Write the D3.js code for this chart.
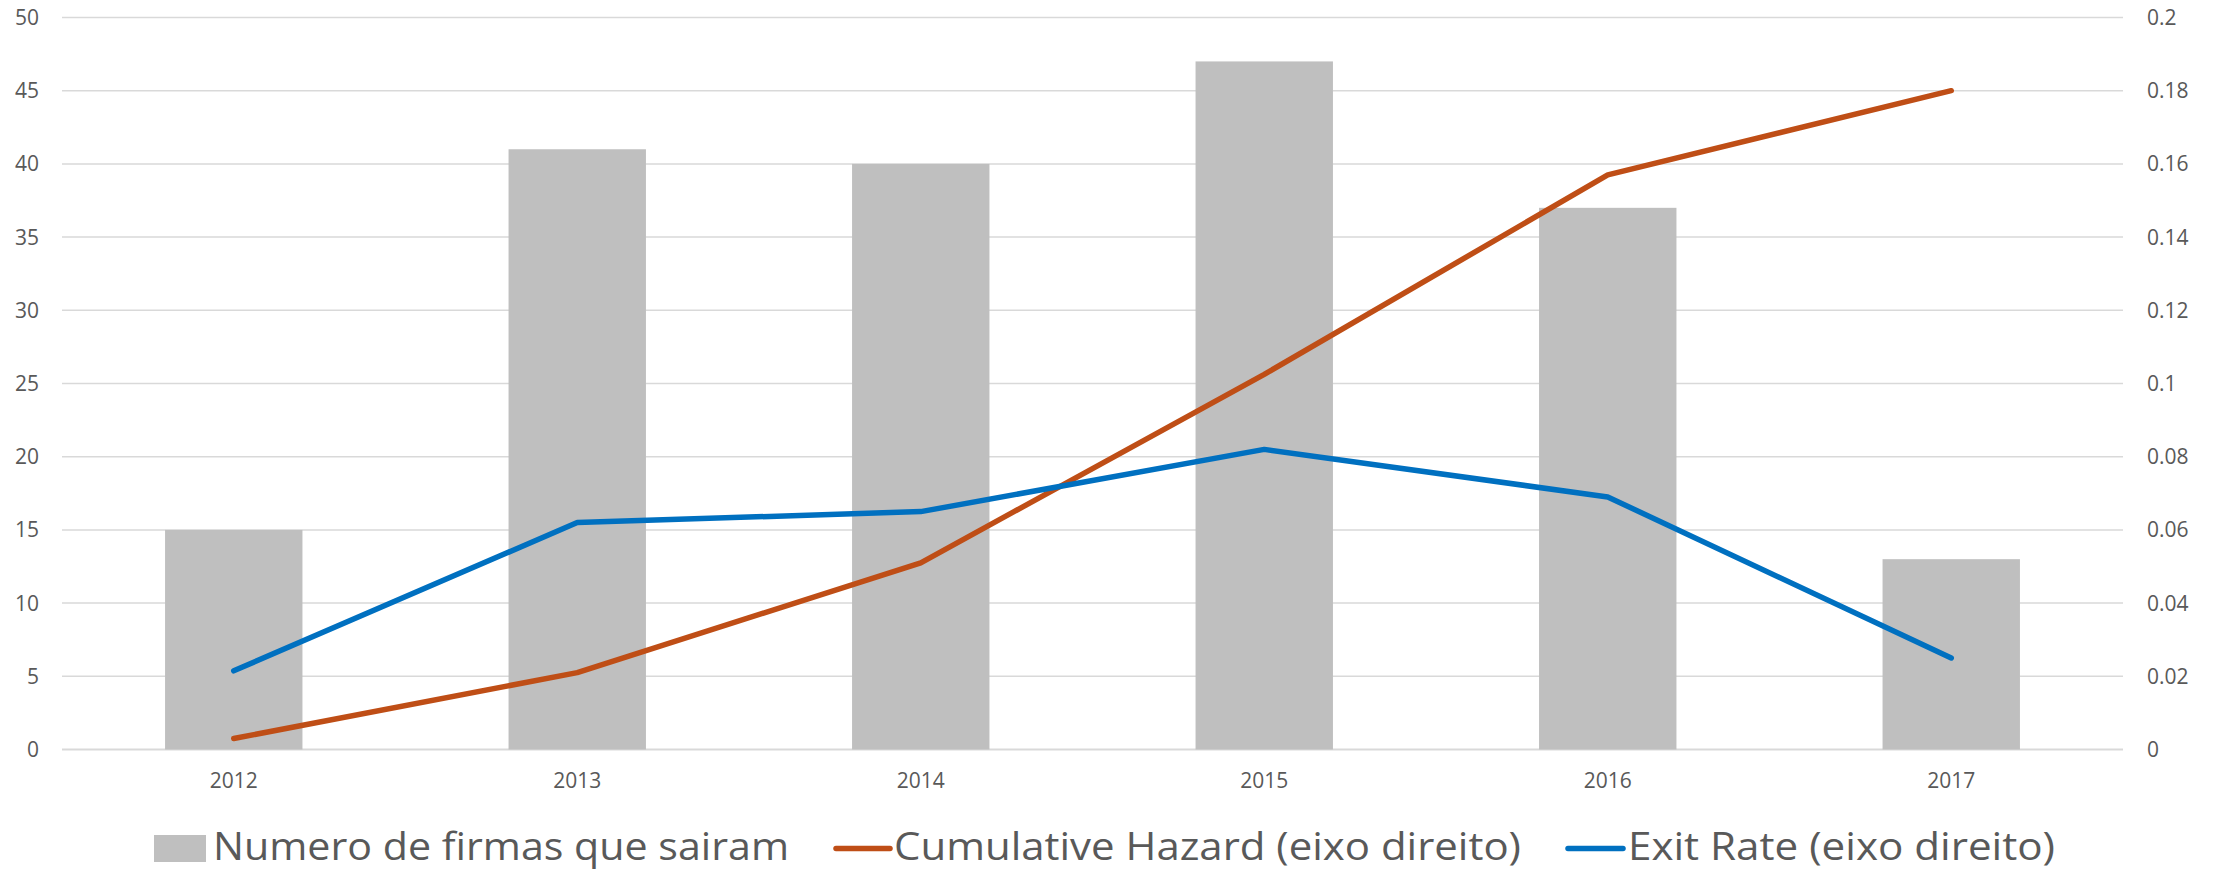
<!DOCTYPE html>
<html>
<head>
<meta charset="utf-8">
<script src="https://cdn.jsdelivr.net/npm/d3@7"></script>
<style>
  html, body { margin: 0; padding: 0; background: #fff; }
  svg { display: block; }
  text { font-family: "Open Sans", "Liberation Sans", sans-serif; fill: #595959; }
</style>
</head>
<body>
<svg id="chart" width="2218" height="871"></svg>
<script>
const categories = ["2012", "2013", "2014", "2015", "2016", "2017"];
const firmsExited = [15, 41, 40, 47, 37, 13];
const cumulativeHazard = [0.003, 0.021, 0.051, 0.1025, 0.157, 0.18];
const exitRate = [0.0215, 0.062, 0.065, 0.082, 0.069, 0.025];
const leftTicks = [0, 5, 10, 15, 20, 25, 30, 35, 40, 45, 50];
const rightTicks = [0, 0.02, 0.04, 0.06, 0.08, 0.1, 0.12, 0.14, 0.16, 0.18, 0.2];
const legendLabels = ["Numero de firmas que sairam", "Cumulative Hazard (eixo direito)", "Exit Rate (eixo direito)"];

const svg = d3.select("#chart");
const plotLeft = 62, plotRight = 2123, plotTop = 17.5, plotBottom = 749.5;

const x = d3.scaleBand().domain(categories).range([plotLeft, plotRight]).paddingInner(0.6).paddingOuter(0.3);
const yL = d3.scaleLinear().domain([0, 50]).range([plotBottom, plotTop]);
const yR = d3.scaleLinear().domain([0, 0.2]).range([plotBottom, plotTop]);

// gridlines
svg.append("g").selectAll("line").data(leftTicks).join("line")
  .attr("x1", plotLeft).attr("x2", plotRight)
  .attr("y1", d => yL(d)).attr("y2", d => yL(d))
  .attr("stroke", "#d9d9d9").attr("stroke-width", d => d === 0 ? 2 : 1.5);

// left labels
svg.append("g").selectAll("text").data(leftTicks).join("text")
  .attr("x", 39).attr("y", d => yL(d)).attr("dy", "0.36em")
  .attr("text-anchor", "end").attr("font-size", 21).text(d => d);

// right labels
svg.append("g").selectAll("text").data(rightTicks).join("text")
  .attr("x", 2147).attr("y", d => yR(d)).attr("dy", "0.36em")
  .attr("text-anchor", "start").attr("font-size", 21).text(d => d3.format("~g")(d));

// bars
svg.append("g").selectAll("rect").data(categories).join("rect")
  .attr("x", d => x(d)).attr("width", x.bandwidth())
  .attr("y", (d, i) => yL(firmsExited[i]))
  .attr("height", (d, i) => yL(0) - yL(firmsExited[i]))
  .attr("fill", "#bfbfbf");

// x labels
svg.append("g").selectAll("text").data(categories).join("text")
  .attr("x", d => x(d) + x.bandwidth() / 2).attr("y", 788)
  .attr("text-anchor", "middle").attr("font-size", 21).text(d => d);

const cx = d => x(d) + x.bandwidth() / 2;
const lineGen = vals => d3.line().x((d) => cx(d)).y((d, i) => yR(vals[i]))(categories);

svg.append("path").attr("d", lineGen(cumulativeHazard))
  .attr("fill", "none").attr("stroke", "#BF4E16").attr("stroke-width", 5.5)
  .attr("stroke-linecap", "round").attr("stroke-linejoin", "round");
svg.append("path").attr("d", lineGen(exitRate))
  .attr("fill", "none").attr("stroke", "#0070C0").attr("stroke-width", 5.5)
  .attr("stroke-linecap", "round").attr("stroke-linejoin", "round");

// legend
const lg = svg.append("g");
lg.append("rect").attr("x", 154).attr("y", 835).attr("width", 52).attr("height", 27).attr("fill", "#bfbfbf");
lg.append("text").attr("x", 213).attr("y", 860).attr("font-size", 38)
  .attr("textLength", 576).attr("lengthAdjust", "spacingAndGlyphs").text(legendLabels[0]);
lg.append("line").attr("x1", 836).attr("x2", 890).attr("y1", 848.5).attr("y2", 848.5)
  .attr("stroke", "#BF4E16").attr("stroke-width", 5.5).attr("stroke-linecap", "round");
lg.append("text").attr("x", 894).attr("y", 860).attr("font-size", 38)
  .attr("textLength", 627).attr("lengthAdjust", "spacingAndGlyphs").text(legendLabels[1]);
lg.append("line").attr("x1", 1568).attr("x2", 1623).attr("y1", 848.5).attr("y2", 848.5)
  .attr("stroke", "#0070C0").attr("stroke-width", 5.5).attr("stroke-linecap", "round");
lg.append("text").attr("x", 1628).attr("y", 860).attr("font-size", 38)
  .attr("textLength", 427).attr("lengthAdjust", "spacingAndGlyphs").text(legendLabels[2]);
</script>
</body>
</html>
